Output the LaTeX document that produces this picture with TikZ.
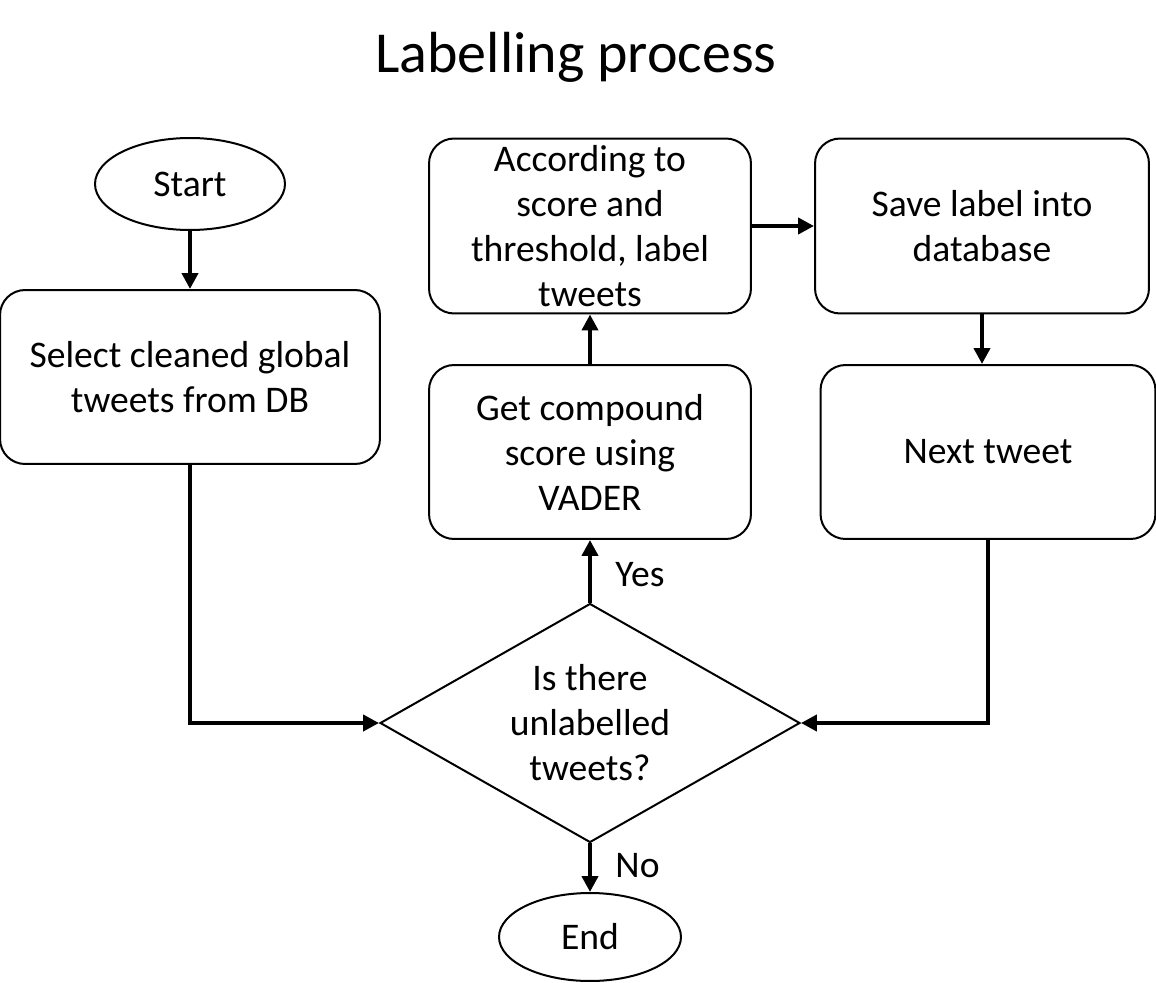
\documentclass[tikz,border=0pt]{standalone}
\usepackage{fontspec}
\setmainfont{Carlito}
\usepackage{tikz}
\usetikzlibrary{shapes.geometric, positioning, arrows.meta}

\begin{document}
\begin{tikzpicture}[
      x=0.02cm, y=-0.02cm,
      box/.style={rectangle, rounded corners=0.5cm, draw=black, line width=0.04cm,
                  align=center, font=\fontsize{21.4}{25.6}\selectfont},
      term/.style={ellipse, draw=black, line width=0.04cm, inner sep=0pt,
                   font=\fontsize{21.4}{25.6}\selectfont},
      decision/.style={diamond, draw=black, line width=0.04cm, inner sep=0pt,
                       shape aspect=1.757, minimum width=8.4cm, minimum height=4.78cm,
                       align=center, font=\fontsize{21.4}{25.6}\selectfont},
      arr/.style={-{Triangle[length=0.32cm, width=0.32cm]}, line width=0.085cm, black},
      lbl/.style={font=\fontsize{21.4}{25.6}\selectfont}
    ]
    \useasboundingbox (0,0) rectangle (1156,983);

    % Title
    \node[font=\fontsize{33}{38}\selectfont] (title) at (576,57) {Labelling process};

    % Left column
    \node[term, minimum width=3.8cm, minimum height=1.84cm] (start) at (190,184) {Start};
    \node[box, minimum width=7.6cm, minimum height=3.48cm] (select) at (190,377)
          {Select cleaned global\\tweets from DB};

    % Middle column
    \node[box, minimum width=6.44cm, minimum height=3.48cm] (vader) at (590,452)
          {Get compound\\score using\\VADER};
    \node[box, minimum width=6.44cm, minimum height=3.5cm] (label) at (590,226)
          {According to\\score and\\threshold, label\\tweets};

    % Right column
    \node[box, minimum width=6.68cm, minimum height=3.5cm] (save) at (982,226)
          {Save label into\\database};
    \node[box, minimum width=6.7cm, minimum height=3.48cm] (next) at (988,452)
          {Next tweet};

    % Decision and end
    \node[decision] (check) at (590,723) {Is there\\unlabelled\\tweets?};
    \node[term, minimum width=3.64cm, minimum height=1.76cm] (end) at (590,937) {End};

    % Connectors
    \draw[arr] (start) -- (select);
    \draw[arr] (select.south) |- (check.west);
    \draw[arr] (check.north) -- (vader.south)
          node[lbl, pos=0.45, right=0.35cm] {Yes};
    \draw[arr] (vader) -- (label);
    \draw[arr] (label) -- (save);
    \draw[arr] (save.south -| 982,0) -- (next.north -| 982,0);
    \draw[arr] (next.south) |- (check.east);
    \draw[arr] (check.south) -- (end.north)
          node[lbl, pos=0.45, right=0.35cm] {No};
  \end{tikzpicture}
\end{document}
